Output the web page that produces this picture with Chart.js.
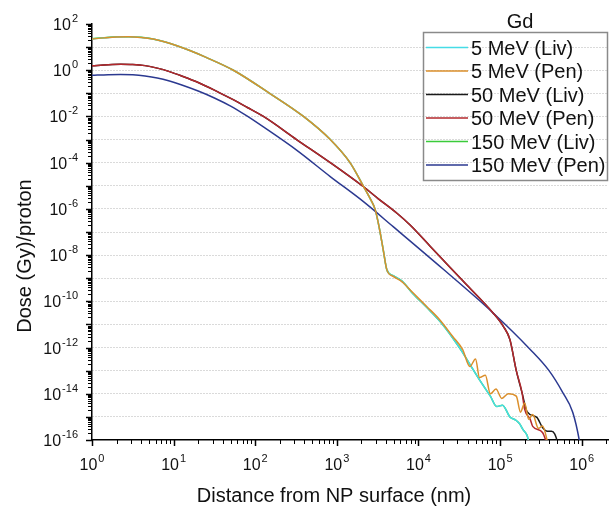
<!DOCTYPE html>
<html>
<head>
<meta charset="utf-8"/>
<style>
  html,body{margin:0;padding:0;background:#fff;}
  #wrap{width:611px;height:508px;}
</style>
</head>
<body>
<div id="wrap"><canvas id="c" width="611" height="508"></canvas></div>
<script src="https://cdn.jsdelivr.net/npm/chart.js@4.4.0/dist/chart.umd.min.js"></script>
<script>
// series (distance in nm, dose in Gy/proton)
const distLiv5  = [1, 1.41, 2, 2.8, 4, 5.6, 7.9, 11.2, 15.8, 25, 54, 150, 390, 830, 1450, 2100, 2600, 2950, 3300, 3700, 4100, 4900, 6300, 8500, 12600, 18200, 26300, 34700, 46800, 56000, 76000, 91000, 107000, 132000, 158000, 174000, 191000, 214000, 230000];
const doseLiv5  = [22.4, 25.1, 27.5, 28.2, 26.3, 22.4, 16.6, 11.2, 7.1, 3.6, 1.0, 0.1, 0.01, 1e-3, 1e-4, 1e-5, 2.5e-6, 9.3e-7, 1.6e-7, 1.7e-8, 2.3e-9, 1.3e-9, 7.5e-10, 2.2e-10, 5.5e-11, 1.4e-11, 2.6e-12, 6.2e-13, 1.1e-13, 4e-14, 7.9e-15, 2.8e-15, 3.2e-15, 1e-15, 7e-16, 5e-16, 2.8e-16, 1.6e-16, 6e-17];

const distPen5  = [1, 1.41, 2, 2.8, 4, 5.6, 7.9, 11.2, 15.8, 25, 54, 150, 390, 830, 1450, 2100, 2600, 2950, 3300, 3700, 4100, 4900, 6300, 8500, 12600, 18200, 26300, 34700, 42700, 50000, 56000, 66000, 76000, 89000, 105000, 126000, 158000, 178000, 200000, 224000, 251000, 295000, 331000, 390000];
const dosePen5  = [22.4, 25.1, 27.5, 28.2, 26.3, 22.4, 16.6, 11.2, 7.1, 3.6, 1.0, 0.1, 0.01, 1e-3, 1e-4, 1e-5, 2.5e-6, 9.3e-7, 1.6e-7, 1.7e-8, 2.3e-9, 1.2e-9, 7e-10, 2.4e-10, 6e-11, 1.6e-11, 3e-12, 8.3e-13, 1.5e-13, 3.2e-13, 5e-14, 6.3e-14, 1e-14, 1.6e-14, 6.3e-15, 1e-14, 7.9e-15, 1.6e-15, 4e-15, 7.9e-16, 1.26e-15, 3.2e-16, 4e-16, 6e-17];

const distLiv50 = [1, 1.58, 2.24, 3.16, 4.47, 6.3, 8.9, 12.6, 20, 31.6, 50, 79, 126, 324, 830, 2100, 3200, 5500, 7900, 13800, 34700, 81000, 110000, 132000, 158000, 186000, 214000, 282000, 331000, 380000, 427000, 468000, 520000];
const doseLiv50 = [1.55, 1.74, 1.82, 1.78, 1.58, 1.23, 0.87, 0.56, 0.295, 0.138, 0.060, 0.025, 0.01, 9.8e-4, 1e-4, 9.3e-6, 2.8e-6, 6.3e-7, 2e-7, 2.5e-8, 7.9e-10, 3.3e-11, 8.1e-12, 2.2e-12, 1e-13, 1.1e-14, 1.7e-15, 9.5e-16, 3.5e-16, 2.4e-16, 2.4e-16, 1.8e-16, 6e-17];

const distPen50 = [1, 1.58, 2.24, 3.16, 4.47, 6.3, 8.9, 12.6, 20, 31.6, 50, 79, 126, 324, 830, 2100, 3200, 5500, 7900, 13800, 34700, 81000, 110000, 132000, 158000, 186000, 200000, 234000, 251000, 331000, 380000];
const dosePen50 = [1.55, 1.74, 1.82, 1.78, 1.58, 1.23, 0.87, 0.56, 0.295, 0.138, 0.060, 0.025, 0.01, 9.8e-4, 1e-4, 9.3e-6, 2.8e-6, 6.3e-7, 2e-7, 2.5e-8, 7.9e-10, 3.3e-11, 8.1e-12, 2.2e-12, 1e-13, 1.1e-14, 2.1e-15, 7.8e-16, 3.9e-16, 2.1e-16, 6e-17];

const distLiv150 = [1, 1.41, 2, 2.8, 4, 5.6, 7.9, 11.2, 15.8, 25, 54, 150, 390, 830, 1450, 2100, 2600, 2950, 3300, 3700, 4100, 4900, 6300, 8500, 12600, 18200, 26300, 34700, 46800, 56000, 76000, 91000, 107000, 132000, 158000, 174000, 191000, 214000, 230000];
const doseLiv150 = [23.2, 25.6, 27.8, 28.4, 26.4, 22.4, 16.6, 11.2, 7.1, 3.6, 1.0, 0.1, 0.01, 1e-3, 1e-4, 1e-5, 2.5e-6, 9.3e-7, 1.6e-7, 1.7e-8, 2.3e-9, 1.3e-9, 7.5e-10, 2.2e-10, 5.5e-11, 1.4e-11, 2.6e-12, 6.2e-13, 1.1e-13, 4e-14, 7.9e-15, 2.8e-15, 3.2e-15, 1e-15, 7e-16, 5e-16, 2.8e-16, 1.6e-16, 6e-17];

const distPen150 = [1, 1.58, 2.24, 3.16, 4.47, 6.3, 8.9, 12.6, 20, 31.6, 50, 79, 126, 324, 830, 2100, 4900, 20000, 81000, 234000, 398000, 589000, 776000, 933000, 980000];
const dosePen150 = [0.60, 0.64, 0.65, 0.63, 0.56, 0.46, 0.34, 0.23, 0.126, 0.063, 0.028, 0.0105, 3.5e-3, 3.4e-4, 2.5e-5, 2.1e-6, 1.7e-7, 2.5e-9, 3.3e-11, 8.3e-13, 1e-13, 1.1e-14, 1.6e-15, 1e-16, 3e-17];

const seriesLabels = ['5 MeV (Liv)', '5 MeV (Pen)', '50 MeV (Liv)', '50 MeV (Pen)', '150 MeV (Liv)', '150 MeV (Pen)'];
const seriesColors = ['#45DCE6', '#DB8F2B', '#1A1A1A', '#B3282D', '#3ACB3A', '#2B3990'];
const drawOrder    = [4, 1, 5, 2, 6, 3]; // lower = drawn on top

const xTickExps = [0, 1, 2, 3, 4, 5, 6];
const yTickExps = [2, 0, -2, -4, -6, -8, -10, -12, -14, -16];
const yGridExps = [2, 1, 0, -1, -2, -3, -4, -5, -6, -7, -8, -9, -10, -11, -12, -13, -14, -15, -16];

const legendTitle = 'Gd';
const xTitle = 'Distance from NP surface (nm)';
const yTitle = 'Dose (Gy)/proton';

const FONT = '"Liberation Sans", Arial, sans-serif';

const zip = (xs, ys) => xs.map((x, i) => ({ x, y: ys[i] }));
const allDist = [distLiv5, distPen5, distLiv50, distPen50, distLiv150, distPen150];
const allDose = [doseLiv5, dosePen5, doseLiv50, dosePen50, doseLiv150, dosePen150];

const datasets = seriesLabels.map((label, i) => ({
  label,
  data: zip(allDist[i], allDose[i]),
  borderColor: seriesColors[i],
  backgroundColor: seriesColors[i],
  order: drawOrder[i],
}));

function pow10(ctx, exp, x, y, align) {
  ctx.font = '16px ' + FONT;
  const w1 = ctx.measureText('10').width;
  ctx.font = '11px ' + FONT;
  const w2 = ctx.measureText(String(exp)).width;
  const total = w1 + 1 + w2;
  let left = x;
  if (align === 'center') left = x - total / 2;
  if (align === 'right')  left = x - total;
  ctx.textAlign = 'left';
  ctx.textBaseline = 'alphabetic';
  ctx.font = '16px ' + FONT;
  ctx.fillText('10', left, y);
  ctx.font = '11px ' + FONT;
  ctx.fillText(String(exp), left + w1 + 1, y - 8);
}

const decorations = {
  id: 'decorations',
  afterDraw(chart) {
    const { ctx, chartArea: a, scales: { x: xs, y: ys } } = chart;
    ctx.save();
    ctx.strokeStyle = '#000';
    ctx.fillStyle = '#111';

    // x ticks (outward)
    for (let e = 0; e <= 6; e++) {
      for (let m = 1; m <= 9; m++) {
        const v = m * Math.pow(10, e);
        if (v > xs.max) break;
        const px = Math.round(xs.getPixelForValue(v)) + 0.5;
        ctx.lineWidth = m === 1 ? 1.5 : 1;
        ctx.beginPath();
        ctx.moveTo(px, a.bottom);
        ctx.lineTo(px, a.bottom + (m === 1 ? 6 : 4));
        ctx.stroke();
      }
    }
    // y ticks (outward)
    for (let e = -16; e <= 2; e++) {
      for (let m = 1; m <= 9; m++) {
        const v = m * Math.pow(10, e);
        if (v > ys.max * 1.0001) break;
        const py = Math.round(ys.getPixelForValue(v)) + 0.5;
        ctx.lineWidth = m === 1 ? 1.5 : 1;
        ctx.beginPath();
        ctx.moveTo(a.left, py);
        ctx.lineTo(a.left - (m === 1 ? 6 : 4), py);
        ctx.stroke();
      }
    }

    // tick labels
    xTickExps.forEach(e => {
      const px = xs.getPixelForValue(Math.pow(10, e));
      pow10(ctx, e, px, 470, 'center');
    });
    yTickExps.forEach(e => {
      const py = ys.getPixelForValue(Math.pow(10, e));
      pow10(ctx, e, 78, py + 6, 'right');
    });

    // axis titles
    ctx.font = '20px ' + FONT;
    ctx.textAlign = 'center';
    ctx.textBaseline = 'alphabetic';
    ctx.fillText(xTitle, 334, 502);
    ctx.save();
    ctx.translate(25, 256);
    ctx.rotate(-Math.PI / 2);
    ctx.textBaseline = 'middle';
    ctx.fillText(yTitle, 0, 0);
    ctx.restore();

    // legend
    ctx.strokeStyle = '#8a8a8a';
    ctx.lineWidth = 1.5;
    ctx.strokeRect(423.5, 32.5, 184, 148);
    ctx.font = '20px ' + FONT;
    ctx.textAlign = 'center';
    ctx.fillText(legendTitle, 520, 28);
    ctx.textAlign = 'left';
    seriesLabels.forEach((lab, i) => {
      const y = 47.5 + i * 23.5;
      ctx.strokeStyle = seriesColors[i];
      ctx.lineWidth = 1.5;
      ctx.beginPath();
      ctx.moveTo(426, y);
      ctx.lineTo(468, y);
      ctx.stroke();
      ctx.fillStyle = '#111';
      ctx.fillText(lab, 471, y + 7);
    });
    ctx.restore();
  }
};

new Chart(document.getElementById('c'), {
  type: 'line',
  data: { datasets },
  plugins: [decorations],
  options: {
    responsive: false,
    animation: false,
    layout: { padding: { left: 92, top: 24, right: 3, bottom: 68 } },
    plugins: { legend: { display: false }, tooltip: { enabled: false } },
    elements: {
      point: { radius: 0 },
      line: { borderWidth: 1.5, cubicInterpolationMode: 'monotone' }
    },
    scales: {
      x: {
        type: 'logarithmic', min: 1, max: 2.1e6,
        ticks: { display: false },
        grid: { drawOnChartArea: false, drawTicks: false },
        border: { color: '#000', width: 1.5 }
      },
      y: {
        type: 'logarithmic', min: 1e-16, max: 100,
        afterBuildTicks: s => { s.ticks = yGridExps.map(e => ({ value: Math.pow(10, e) })); },
        ticks: { display: false },
        grid: {
          drawTicks: false, lineWidth: 1,
          color: c => (c.tick && (c.tick.value >= 99 || c.tick.value <= 1.01e-16)) ? 'rgba(0,0,0,0)' : '#b4b4b4'
        },
        border: { color: '#000', width: 1.5, dash: [1, 2] }
      }
    }
  }
});
</script>
</body>
</html>
